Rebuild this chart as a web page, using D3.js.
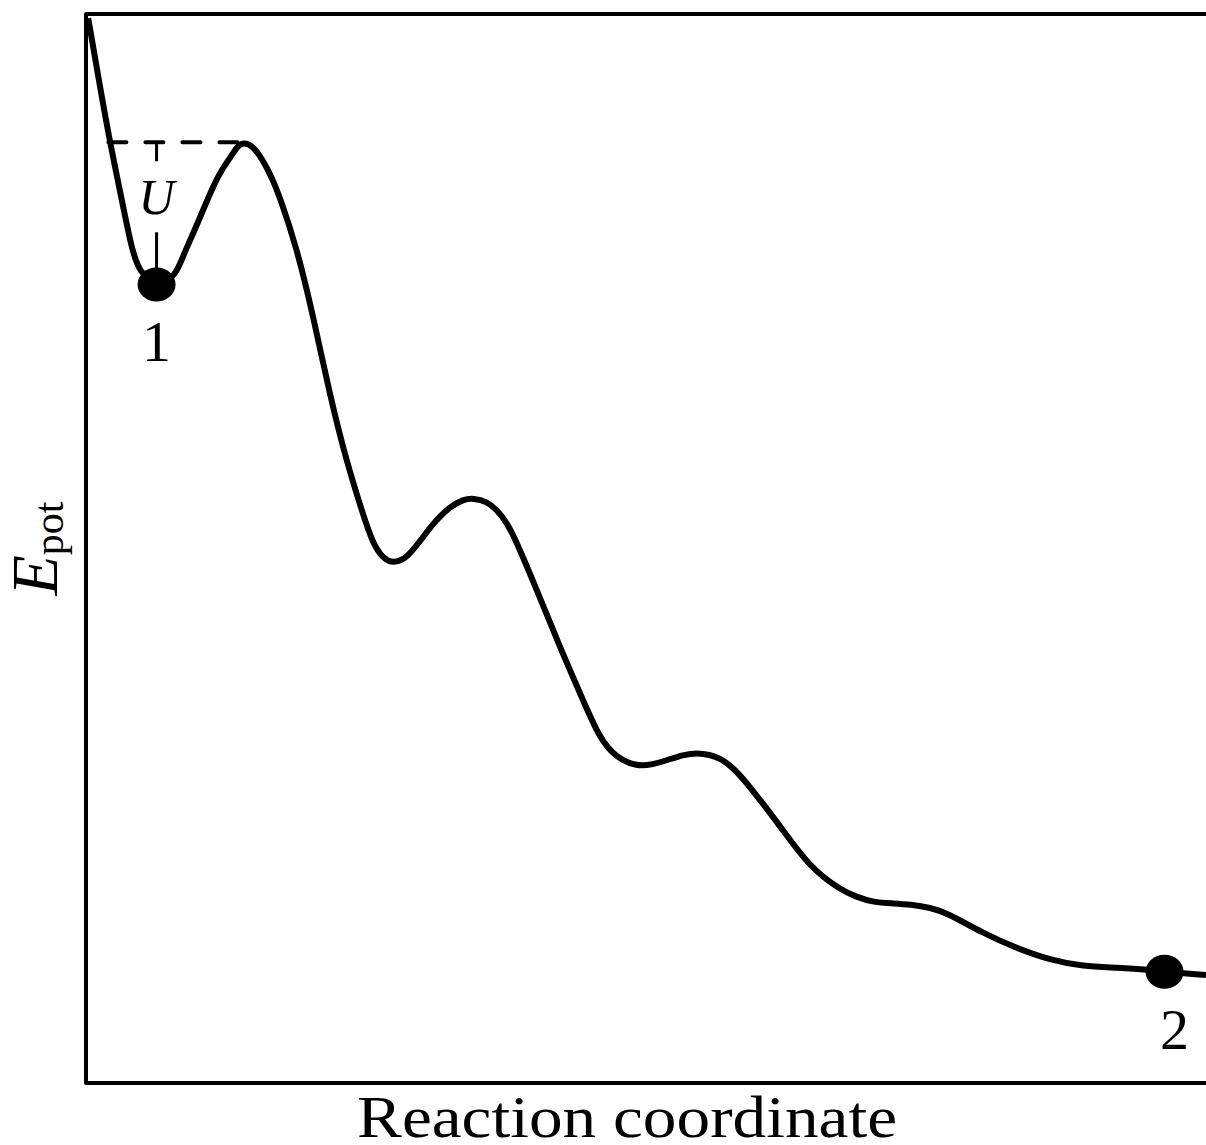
<!DOCTYPE html>
<html>
<head>
<meta charset="utf-8">
<script src="https://cdn.jsdelivr.net/npm/d3@7"></script>
<style>
  html, body { margin: 0; padding: 0; background: #fff; }
  svg { display: block; }
  text { font-family: "Liberation Serif", "DejaVu Serif", serif; fill: #000; }
</style>
</head>
<body>
<svg id="chart"></svg>
<script>
// potential energy profile along the reaction coordinate (arbitrary units)
var coord = [0.02, 0.13, 0.21, 0.32, 0.41, 0.48, 0.63, 0.80, 0.87, 0.96, 1.13, 1.21,
  1.29, 1.35, 1.40, 1.49, 1.58, 1.66, 1.73, 1.88, 2.03, 2.18, 2.33, 2.47, 2.56,
  2.65, 2.74, 2.87, 3.01, 3.13, 3.25, 3.37, 3.46, 3.58, 3.67, 3.76, 3.85, 4.05,
  4.23, 4.41, 4.59, 4.74, 4.92, 5.06, 5.19, 5.33, 5.46, 5.57, 5.66, 5.78, 5.93,
  6.20, 6.46, 6.73, 6.88, 7.03, 7.21, 7.36, 7.54, 7.69, 8.01, 8.31, 8.61, 8.90,
  9.21, 9.50, 9.63, 10.0]
var energy = [9.96, 9.29, 8.82, 8.26, 7.79, 7.58, 7.46, 7.54, 7.75, 7.95, 8.38, 8.54,
  8.66, 8.76, 8.80, 8.77, 8.63, 8.47, 8.29, 7.82, 7.17, 6.42, 5.80, 5.33, 5.05,
  4.91, 4.86, 4.91, 5.11, 5.27, 5.39, 5.46, 5.47, 5.44, 5.36, 5.24, 5.05, 4.55,
  4.08, 3.65, 3.21, 3.04, 2.96, 2.98, 3.02, 3.07, 3.09, 3.07, 3.04, 2.95, 2.77,
  2.40, 2.02, 1.81, 1.74, 1.69, 1.68, 1.67, 1.64, 1.59, 1.40, 1.26, 1.15, 1.09,
  1.08, 1.06, 1.04, 1.01]

// marked states
var stateLabels = ['1', '2']
var stateCoord = [0.63, 9.63]
var stateEnergy = [7.47, 1.04]

// barrier height U: from state 1 up to the first maximum
var barrierStart = 0.2
var barrierEnd = 1.40
var barrierEnergy = 8.80

var width = 1206, height = 1145
var margin = {top: 14, right: 0, bottom: 62, left: 86}

var svg = d3.select('#chart')
  .attr('width', width)
  .attr('height', height)

var xScale = d3.scaleLinear()
  .domain([0, 10])
  .range([margin.left, width - margin.right])

var yScale = d3.scaleLinear()
  .domain([0, 10])
  .range([height - margin.bottom, margin.top])

var points = coord.map((c, i) => ({x: c, y: energy[i]}))

// frame (right side runs off the picture)
svg.append('rect')
  .attr('x', xScale(0))
  .attr('y', yScale(10))
  .attr('width', xScale(10) - xScale(0) + 40)
  .attr('height', yScale(0) - yScale(10))
  .style('fill', 'none')
  .style('stroke', '#000')
  .style('stroke-width', 4)
  .style('stroke-linejoin', 'round')

// dashed barrier level
svg.append('line')
  .attr('x1', xScale(barrierStart))
  .attr('x2', xScale(barrierEnd))
  .attr('y1', yScale(barrierEnergy))
  .attr('y2', yScale(barrierEnergy))
  .style('stroke', '#000')
  .style('stroke-width', 4)
  .style('stroke-linecap', 'round')
  .style('stroke-dasharray', '18,19')

// U marker
var ux = xScale(stateCoord[0])
var uTop = yScale(barrierEnergy)
var uBottom = yScale(stateEnergy[0])
svg.append('line')
  .attr('x1', ux).attr('x2', ux)
  .attr('y1', uTop).attr('y2', uTop + 19)
  .style('stroke', '#000')
  .style('stroke-width', 3)
svg.append('line')
  .attr('x1', ux).attr('x2', ux)
  .attr('y1', uTop + 90).attr('y2', uBottom)
  .style('stroke', '#000')
  .style('stroke-width', 3)
svg.append('text')
  .attr('x', ux)
  .attr('y', uTop + 72)
  .attr('text-anchor', 'middle')
  .style('font-size', '50px')
  .style('font-style', 'italic')
  .text('U')

// energy curve
var lineDraw = d3.line()
  .x(d => xScale(d.x))
  .y(d => yScale(d.y))
  .curve(d3.curveBasis)

svg.append('path')
  .datum(points)
  .attr('d', lineDraw)
  .style('fill', 'none')
  .style('stroke', '#000')
  .style('stroke-width', 6)
  .style('stroke-linejoin', 'round')

// states
svg.selectAll('.state')
  .data(stateLabels)
  .enter()
  .append('ellipse')
  .attr('class', 'state')
  .attr('cx', (d, i) => xScale(stateCoord[i]))
  .attr('cy', (d, i) => yScale(stateEnergy[i]))
  .attr('rx', 19)
  .attr('ry', 17)
  .style('fill', '#000')

svg.selectAll('.state-label')
  .data(stateLabels)
  .enter()
  .append('text')
  .attr('class', 'state-label')
  .attr('x', (d, i) => xScale(stateCoord[i]) + (i === 0 ? 0 : 10))
  .attr('y', (d, i) => yScale(stateEnergy[i]) + 77)
  .attr('text-anchor', 'middle')
  .style('font-size', '58px')
  .text(d => d)

// axis titles
svg.append('text')
  .attr('x', 357)
  .attr('y', height - 8)
  .attr('textLength', 540)
  .attr('lengthAdjust', 'spacingAndGlyphs')
  .style('font-size', '60px')
  .text('Reaction coordinate')

var yTitle = svg.append('text')
  .attr('transform', `translate(57,${(margin.top + height - margin.bottom) / 2}) rotate(-90)`)
  .attr('text-anchor', 'middle')
yTitle.append('tspan')
  .style('font-size', '66px')
  .style('font-style', 'italic')
  .text('E')
yTitle.append('tspan')
  .attr('dy', 6)
  .style('font-size', '42px')
  .text('pot')
</script>
</body>
</html>
